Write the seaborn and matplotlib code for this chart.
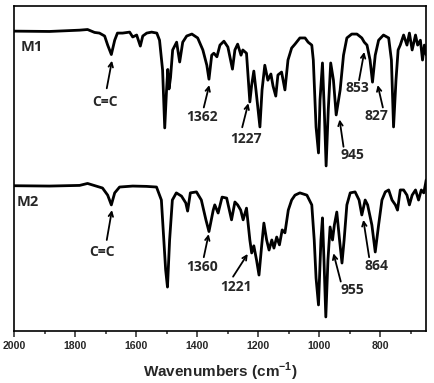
import matplotlib
matplotlib.use("Agg")
import matplotlib.pyplot as plt
import seaborn as sns
import pandas as pd

sns.set_style("ticks")
plt.rcParams["font.family"] = ["Liberation Sans", "DejaVu Sans"]
plt.rcParams["font.weight"] = "bold"
plt.rcParams["mathtext.fontset"] = "custom"
plt.rcParams["mathtext.rm"] = "Liberation Sans:bold"
plt.rcParams["mathtext.bf"] = "Liberation Sans:bold"

# spectrum M1 (wavenumber, transmittance in arbitrary units)
m1_wn = [2000, 1885, 1786, 1760, 1737, 1721, 1704, 1694, 1682, 1671, 1662, 1645, 1622, 1612,
         1599, 1587, 1579, 1566, 1550, 1533, 1524, 1514, 1507, 1501, 1497, 1493, 1488, 1481,
         1468, 1458, 1448, 1435, 1418, 1399, 1382, 1369, 1362, 1353, 1346, 1336, 1326, 1313,
         1300, 1285, 1277, 1268, 1257, 1251, 1239, 1228, 1222, 1215, 1208, 1195, 1188, 1179,
         1169, 1159, 1152, 1143, 1136, 1124, 1113, 1103, 1091, 1080, 1064, 1047, 1037, 1025,
         1020, 1011, 1003, 998, 990, 984, 978, 971, 963, 954, 945, 932, 921, 910, 894, 877,
         861, 853, 844, 834, 826, 817, 806, 790, 773, 764, 757, 749, 742, 735, 724, 713, 705,
         696, 685, 678, 669, 662, 656, 650]
m1_t = [92.3, 92.2, 92.6, 92.8, 91.9, 91.7, 90.8, 88.0, 85.1, 89.5, 91.7, 91.7, 92.0, 90.5,
        91.1, 87.7, 90.8, 91.7, 92.0, 91.7, 89.5, 80.3, 62.5, 74.2, 80.5, 74.5, 78.0, 86.5,
        88.9, 82.8, 88.9, 90.8, 91.4, 90.2, 86.5, 81.8, 77.5, 84.9, 85.5, 84.4, 88.0, 89.2,
        87.4, 80.6, 86.5, 88.3, 84.9, 86.5, 85.5, 70.5, 75.7, 80.0, 74.2, 62.8, 74.2, 81.8,
        77.2, 79.1, 75.4, 72.3, 78.8, 79.7, 74.2, 83.4, 87.1, 88.3, 90.2, 90.2, 88.9, 88.0,
        83.4, 62.8, 54.8, 71.1, 82.5, 68.0, 50.8, 68.0, 82.5, 77.2, 66.5, 74.2, 84.9, 90.2,
        91.4, 91.4, 90.2, 88.9, 88.0, 83.4, 76.6, 84.9, 89.5, 91.1, 90.2, 83.4, 62.8, 77.2,
        86.5, 88.0, 91.1, 88.0, 91.7, 86.5, 91.1, 88.0, 89.5, 83.4, 88.0, 85.0]

# spectrum M2
m2_wn = [2000, 1885, 1786, 1760, 1732, 1711, 1694, 1682, 1671, 1655, 1612, 1567, 1534, 1518,
         1510, 1504, 1498, 1491, 1482, 1469, 1452, 1438, 1432, 1423, 1403, 1387, 1372, 1362,
         1348, 1343, 1332, 1319, 1304, 1288, 1277, 1268, 1258, 1250, 1239, 1228, 1222, 1215,
         1206, 1198, 1189, 1182, 1173, 1165, 1156, 1149, 1140, 1131, 1122, 1113, 1102, 1091,
         1080, 1064, 1041, 1025, 1017, 1011, 1003, 995, 990, 985, 979, 972, 965, 957, 951,
         943, 934, 926, 919, 910, 899, 883, 870, 861, 850, 842, 828, 817, 806, 795, 784, 773,
         762, 751, 744, 735, 724, 713, 705, 696, 685, 675, 666, 658, 653, 650]
m2_t = [44.7, 44.6, 44.8, 45.4, 44.6, 44.0, 41.8, 38.8, 42.5, 44.3, 44.6, 44.5, 44.3, 40.3,
        28.0, 18.8, 13.5, 28.0, 40.3, 42.5, 41.5, 39.4, 36.9, 42.5, 42.8, 40.3, 34.2, 30.6,
        37.2, 38.8, 36.3, 41.2, 40.9, 34.2, 39.7, 38.8, 37.2, 34.2, 37.8, 28.0, 24.0, 26.2,
        21.8, 17.2, 26.5, 33.2, 28.0, 24.9, 28.0, 25.5, 28.9, 26.5, 31.1, 30.2, 37.2, 40.3,
        41.8, 42.5, 41.8, 38.8, 28.0, 16.3, 8.0, 28.0, 34.8, 21.8, 4.3, 21.8, 32.0, 28.0, 32.6,
        36.6, 28.0, 20.9, 28.0, 38.8, 42.5, 42.8, 40.3, 35.7, 40.3, 38.8, 32.6, 24.3, 32.6,
        40.3, 42.8, 43.4, 40.3, 38.8, 37.2, 43.4, 43.4, 41.8, 38.8, 41.8, 43.4, 40.3, 43.4,
        42.5, 44.9, 46.5]

# peak annotations: label, text position, arrow tail, arrow head
ann_labels = ["C=C", "1362", "1227", "945", "853", "827",
              "C=C", "1360", "1221", "955", "864"]
ann_text = [(1702, 70.5), (1386, 65.9), (1242, 59.2), (891, 54.2), (875, 74.8), (812, 66.2),
            (1714, 24.3), (1384, 19.8), (1274, 13.6), (891, 12.5), (812, 20.0)]
ann_tail = [(1697, 74.7), (1379, 68.8), (1253, 62.7), (921, 56.7), (870, 77.2), (792, 68.8),
            (1697, 28.0), (1379, 22.7), (1283, 16.7), (930, 15.2), (837, 22.7)]
ann_head = [(1680, 83.2), (1361, 75.7), (1233, 70.1), (934, 65.1), (853, 85.9), (809, 75.7),
            (1680, 37.2), (1363, 29.8), (1235, 23.7), (954, 23.9), (856, 34.2)]

df = pd.concat([
    pd.DataFrame({"wn": m1_wn, "t": m1_t, "sample": "M1"}),
    pd.DataFrame({"wn": m2_wn, "t": m2_t, "sample": "M2"}),
])

fig = plt.figure(figsize=(4.34, 3.83), dpi=100)
ax = fig.add_axes([0.033, 0.136, 0.949, 0.848])

sns.lineplot(data=df, x="wn", y="t", units="sample", estimator=None,
             color="black", linewidth=2.0, ax=ax, legend=False)

ax.set_xlim(2000, 650)
ax.set_ylim(0, 100)
ax.set_xticks([2000, 1800, 1600, 1400, 1200, 1000, 800])
ax.set_xticks([1900, 1700, 1500, 1300, 1100, 900, 700], minor=True)
ax.set_yticks([])
ax.set_ylabel("")
ax.tick_params(axis="x", which="major", direction="out", length=4, width=1.1,
               labelsize=7.6, pad=3)
ax.tick_params(axis="x", which="minor", direction="out", length=2.2, width=1.1)
plt.setp(ax.get_xticklabels(), fontweight="bold")
for sp in ax.spines.values():
    sp.set_visible(True)
    sp.set_linewidth(1.2)
    sp.set_color("black")

ax.set_xlabel(r"Wavenumbers (cm$^{-1}$)", fontsize=11, fontweight="bold", labelpad=7)

ann_font = ["Open Sans", "DejaVu Sans"]
ax.text(1978, 87.4, "M1", ha="left", va="center", fontsize=10.5, fontweight="bold",
        family=ann_font)
ax.text(1994, 39.7, "M2", ha="left", va="center", fontsize=10.5, fontweight="bold",
        family=ann_font)

for lab, tp, tail, head in zip(ann_labels, ann_text, ann_tail, ann_head):
    ax.text(tp[0], tp[1], lab, ha="center", va="center", fontsize=10, fontweight="bold",
            family=ann_font)
    ax.annotate("", xy=head, xytext=tail,
                arrowprops=dict(arrowstyle="->", color="black", lw=1.3,
                                shrinkA=0, shrinkB=0, mutation_scale=8))

fig.savefig("out.png", dpi=100)
